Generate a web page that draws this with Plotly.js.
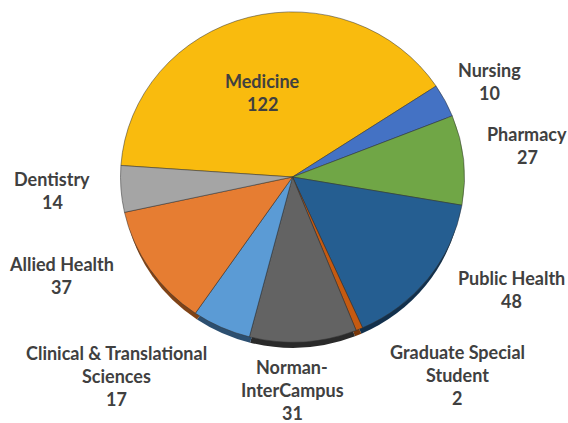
<!DOCTYPE html>
<html>
<head>
<meta charset="utf-8">
<script src="https://cdn.plot.ly/plotly-3.0.1.min.js"></script>
<style>html,body{margin:0;padding:0;background:#fff}#c{width:568px;height:423px}</style>
</head>
<body>
<div id="c"></div>
<script>
const categories = ["Medicine","Nursing","Pharmacy","Public Health","Graduate Special Student","Norman-InterCampus","Clinical & Translational Sciences","Allied Health","Dentistry"];
const values = [122,10,27,48,2,31,17,37,14];
const colors = ["#F9BB0E","#4472C4","#70A646","#255E91","#C55A11","#636363","#5B9BD5","#E67D32","#A5A5A5"];
const shadowColors = ["#F9BB0E","#4472C4","#70A646","#12304C","#7A380A","#2A2A2A","#2C4F70","#7F4317","#A5A5A5"];
const labelLines = [["Medicine"],["Nursing"],["Pharmacy"],["Public Health"],["Graduate Special","Student"],["Norman-","InterCampus"],["Clinical & Translational","Sciences"],["Allied Health"],["Dentistry"]];
const labelCenterX = [262,489,527,511,457,292,116,62,52];
const labelFirstY = [81,70,134,278,352,367,353,264,179];

const W = 568, H = 423, R = 172, CX = 292.5, CY = 177, SY = 0.96, LINE = 23;
const dom = (cy, r) => ({x:[(CX-r)/W,(CX+r)/W], y:[1-(cy+r)/H,1-(cy-r)/H]});
const pie = (cols, cy, r, line) => ({
  type:"pie", labels:categories, values:values, sort:false, direction:"clockwise", rotation:-86,
  textinfo:"none", hoverinfo:"skip", showlegend:false, domain:dom(cy, r),
  marker:{colors:cols, line:line}
});
const annotations = [];
categories.forEach((c,i)=>{
  labelLines[i].concat([String(values[i])]).forEach((t,j)=>{
    annotations.push({text:t, xref:"paper", yref:"paper", x:labelCenterX[i]/W, y:1-(labelFirstY[i]+j*LINE)/H,
      xanchor:"center", yanchor:"middle", showarrow:false, borderpad:0,
      font:{family:"Lato, 'Open Sans', sans-serif", size:18, weight:700, color:"#404040"}});
  });
});
Plotly.newPlot("c",[
  pie(shadowColors, CY+9, R-3, {color:"rgba(0,0,0,0)", width:0}),
  pie(colors, CY, R, {color:"rgba(50,50,50,0.65)", width:0.8})
],{
  width:W, height:H, margin:{l:0,r:0,t:0,b:0}, paper_bgcolor:"#fff", annotations:annotations, showlegend:false
},{staticPlot:true,displayModeBar:false}).then(()=>{
  const g = document.querySelector(".pielayer");
  if (g) g.setAttribute("transform",`translate(0,${CY}) scale(1,${SY}) translate(0,${-CY})`);
});
</script>
</body>
</html>
